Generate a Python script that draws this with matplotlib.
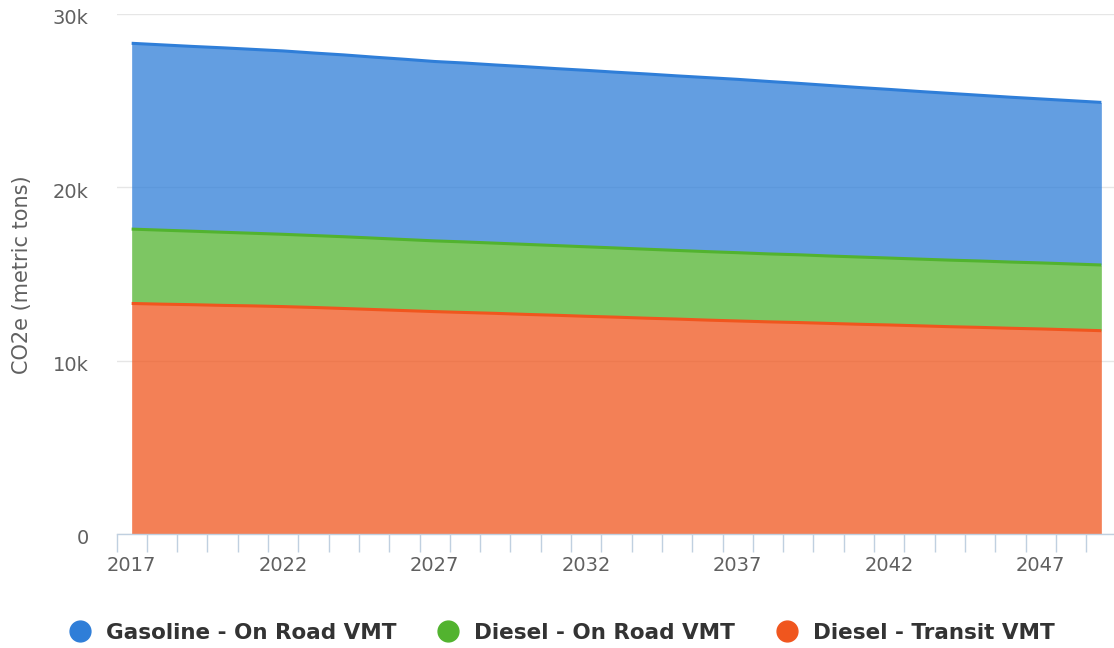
import matplotlib
matplotlib.use("Agg")
import matplotlib.pyplot as plt
from matplotlib.lines import Line2D
from matplotlib.ticker import FixedLocator
import matplotlib.transforms as mtransforms
import numpy as np

years = list(range(2017, 2050))
series_names = ["Gasoline - On Road VMT", "Diesel - On Road VMT", "Diesel - Transit VMT"]

# values in thousand metric tons CO2e (stacked: transit at bottom)
diesel_transit = [13.30, 13.26, 13.23, 13.19, 13.16, 13.12, 13.07, 13.01, 12.95, 12.89,
                  12.83, 12.78, 12.73, 12.67, 12.62, 12.56, 12.51, 12.45, 12.40, 12.34,
                  12.29, 12.24, 12.20, 12.15, 12.10, 12.06, 12.01, 11.96, 11.92, 11.87,
                  11.83, 11.78, 11.73]
diesel_road = [4.29, 4.27, 4.24, 4.22, 4.19, 4.17, 4.15, 4.14, 4.12, 4.10,
               4.08, 4.07, 4.05, 4.04, 4.02, 4.01, 3.99, 3.98, 3.96, 3.95,
               3.94, 3.92, 3.91, 3.89, 3.88, 3.86, 3.85, 3.84, 3.83, 3.82,
               3.81, 3.80, 3.79]
gasoline_road = [10.72, 10.69, 10.66, 10.64, 10.61, 10.58, 10.53, 10.49, 10.44, 10.40,
                 10.35, 10.32, 10.28, 10.25, 10.21, 10.18, 10.14, 10.11, 10.07, 10.04,
                 10.00, 9.95, 9.89, 9.84, 9.78, 9.73, 9.67, 9.62, 9.56, 9.51,
                 9.46, 9.42, 9.38]

y_ticks = [0, 10000, 20000, 30000]
y_tick_labels = ["0", "10k", "20k", "30k"]
x_label_years = [2017, 2022, 2027, 2032, 2037, 2042, 2047]

line_colors = ["#2f7ed8", "#52b32f", "#f0561e"]
fill_alpha = 0.75

W, H = 1114, 648
fig = plt.figure(figsize=(W / 100, H / 100), dpi=100)
left_px, right_px, top_px, bottom_px = 116.5, 1116.5, 14, 534
ax = fig.add_axes([left_px / W, (H - bottom_px) / H, (right_px - left_px) / W, (bottom_px - top_px) / H])

x = np.arange(len(years))
bottom_vals = np.array(diesel_transit) * 1000
mid_vals = bottom_vals + np.array(diesel_road) * 1000
top_vals = mid_vals + np.array(gasoline_road) * 1000

layers = [
    (np.zeros(len(x)), bottom_vals, line_colors[2]),
    (bottom_vals, mid_vals, line_colors[1]),
    (mid_vals, top_vals, line_colors[0]),
]
for lo, hi, c in layers:
    ax.fill_between(x, lo, hi, color=c, alpha=fill_alpha, linewidth=0, zorder=2)
for lo, hi, c in layers:
    ax.plot(x, hi, color=c, linewidth=2.2, zorder=3, solid_capstyle="butt")

ax.set_xlim(-0.5, len(years) - 0.5)
ax.set_ylim(0, 30000)

for s in ["top", "right", "left"]:
    ax.spines[s].set_visible(False)
ax.spines["bottom"].set_color("#c0d0e0")
ax.spines["bottom"].set_linewidth(1)
ax.spines["bottom"].set_zorder(4)

ax.set_yticks(y_ticks)
ax.set_yticklabels(y_tick_labels)
ax.yaxis.grid(True, color="#e6e6e6", linewidth=1)
ax.set_axisbelow(True)
ax.tick_params(axis="y", length=0, pad=20, labelsize=14, labelcolor="#606060")
offset = mtransforms.ScaledTranslation(0, -3 / 100, fig.dpi_scale_trans)
for lbl in ax.get_yticklabels():
    lbl.set_transform(lbl.get_transform() + offset)

label_idx = [years.index(yv) for yv in x_label_years]
ax.xaxis.set_major_locator(FixedLocator(label_idx))
ax.set_xticklabels([str(yv) for yv in x_label_years])
ax.xaxis.set_minor_locator(FixedLocator(np.arange(-0.5, len(years), 1.0)))
ax.tick_params(axis="x", which="major", length=0, pad=16, labelsize=14, labelcolor="#606060")
ax.tick_params(axis="x", which="minor", length=13, width=1, color="#c0d0e0", direction="out")

fig.text(22 / W, 1 - 275 / H, "CO2e (metric tons)", rotation=90, ha="center", va="center",
         fontsize=15, color="#606060")

handles = [Line2D([0], [0], marker="o", linestyle="none", markersize=15,
                  markerfacecolor=c, markeredgecolor=c) for c in line_colors]
leg = fig.legend(handles, series_names, loc="center", bbox_to_anchor=(562 / W, 1 - 633 / H),
                 ncol=3, frameon=False, handletextpad=0.7, columnspacing=1.9,
                 prop={"size": 15.5, "weight": "bold"}, handlelength=1.0)
for t in leg.get_texts():
    t.set_color("#333333")

fig.savefig("out.png", dpi=100)
